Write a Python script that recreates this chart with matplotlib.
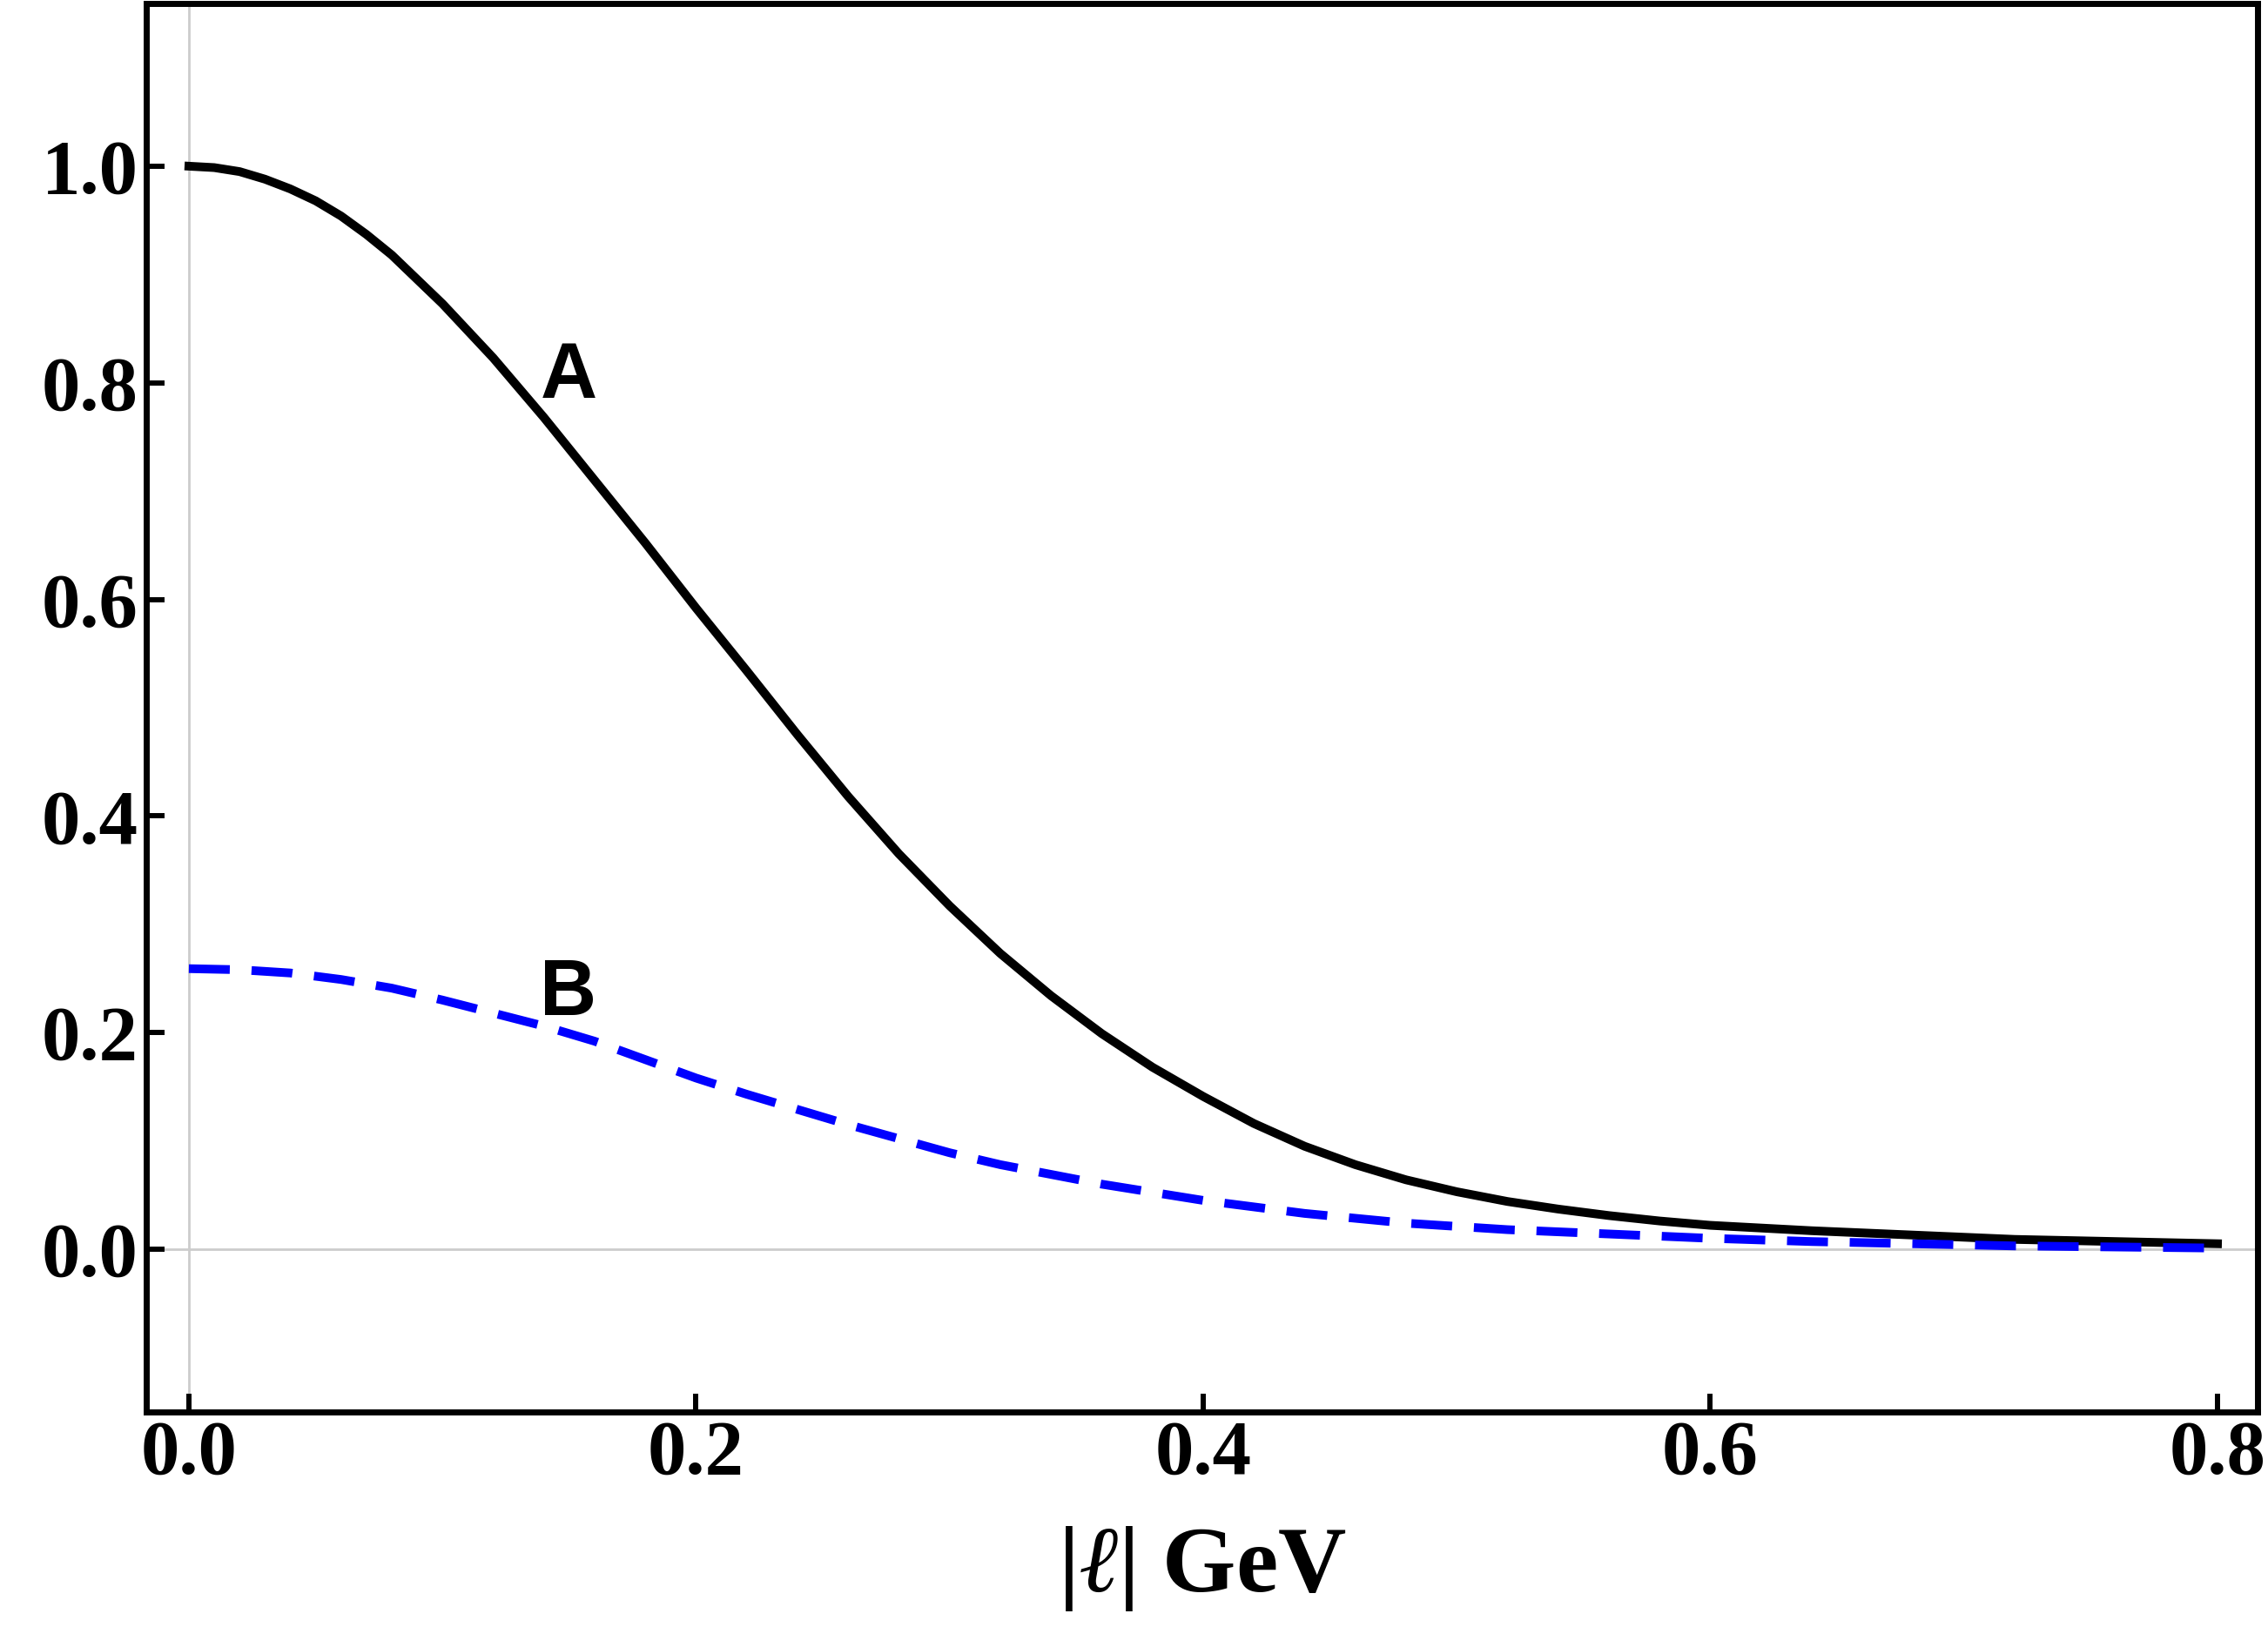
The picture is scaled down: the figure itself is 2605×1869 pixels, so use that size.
import numpy as np
import matplotlib
matplotlib.use("Agg")
import matplotlib.pyplot as plt

# values
l_a = [0.0, 0.01, 0.02, 0.03, 0.04, 0.05, 0.06, 0.07, 0.08, 0.10, 0.12, 0.14, 0.16, 0.18,
       0.20, 0.22, 0.24, 0.26, 0.28, 0.30, 0.32, 0.34, 0.36, 0.38, 0.40, 0.42, 0.44, 0.46,
       0.48, 0.50, 0.52, 0.54, 0.56, 0.58, 0.60, 0.64, 0.68, 0.72, 0.76, 0.80]
curve_a = [1.0, 0.9987, 0.995, 0.988, 0.979, 0.968, 0.954, 0.937, 0.918, 0.873, 0.823, 0.768,
           0.710, 0.652, 0.592, 0.534, 0.475, 0.418, 0.365, 0.317, 0.273, 0.234, 0.199, 0.168,
           0.141, 0.116, 0.095, 0.078, 0.064, 0.053, 0.044, 0.037, 0.031, 0.026, 0.022, 0.017,
           0.013, 0.009, 0.007, 0.005]

l_b = [0.0, 0.02, 0.04, 0.06, 0.08, 0.10, 0.12, 0.14, 0.16, 0.18, 0.20, 0.22, 0.24, 0.26,
       0.28, 0.30, 0.32, 0.36, 0.40, 0.44, 0.48, 0.52, 0.56, 0.60, 0.64, 0.68, 0.72, 0.76, 0.80]
curve_b = [0.259, 0.258, 0.255, 0.249, 0.241, 0.230, 0.218, 0.206, 0.192, 0.175, 0.158, 0.143,
           0.129, 0.115, 0.102, 0.089, 0.078, 0.060, 0.045, 0.033, 0.024, 0.018, 0.014, 0.010,
           0.007, 0.005, 0.003, 0.002, 0.001]

x_ticks = [0.0, 0.2, 0.4, 0.6, 0.8]
y_ticks = [0.0, 0.2, 0.4, 0.6, 0.8, 1.0]

serif = ["Liberation Serif", "DejaVu Serif"]
plt.rcParams["mathtext.fontset"] = "custom"
plt.rcParams["mathtext.rm"] = "Liberation Serif:bold"
plt.rcParams["mathtext.bf"] = "Liberation Serif:bold"
plt.rcParams["mathtext.it"] = "Liberation Serif:italic"

fig = plt.figure(figsize=(26.05, 18.69), dpi=100)
ax = fig.add_axes([0.0645, 0.1322, 0.9309, 0.8657])

# Mathematica-style axes lines through the origin
ax.axhline(0, color="#cccccc", lw=2, zorder=1)
ax.axvline(0, color="#cccccc", lw=2, zorder=1)

ax.plot(l_a, curve_a, color="black", lw=7.2, zorder=3, solid_joinstyle="round")
ax.plot(l_b, curve_b, color="#0000ff", lw=7.2, dashes=(4.7, 2.5), zorder=3)

ax.text(0.1497, 0.805, "A", family=["Liberation Sans", "DejaVu Sans"], weight="bold",
        fontsize=65, ha="center", va="center")
ax.text(0.1494, 0.235, "B", family=["Liberation Sans", "DejaVu Sans"], weight="bold",
        fontsize=65, ha="center", va="center")

ax.set_xlim(-0.0168, 0.8158)
ax.set_ylim(-0.1503, 1.1503)
ax.set_xticks(x_ticks)
ax.set_yticks(y_ticks)
ax.set_xticklabels([f"{v:.1f}" for v in x_ticks])
ax.set_yticklabels([f"{v:.1f}" for v in y_ticks])
ax.tick_params(direction="in", length=15, width=4.3, pad=6.5, top=False, right=False)
for lab in ax.get_xticklabels() + ax.get_yticklabels():
    lab.set_family(serif)
    lab.set_weight("bold")
    lab.set_fontsize(64)

for sp in ax.spines.values():
    sp.set_linewidth(5)

ax.set_xlabel(r"$\mathbf{|}\mathit{ℓ}\mathbf{|}$ GeV", family=serif, weight="bold",
              fontsize=78, labelpad=28)

fig.savefig("out.png", dpi=100)
